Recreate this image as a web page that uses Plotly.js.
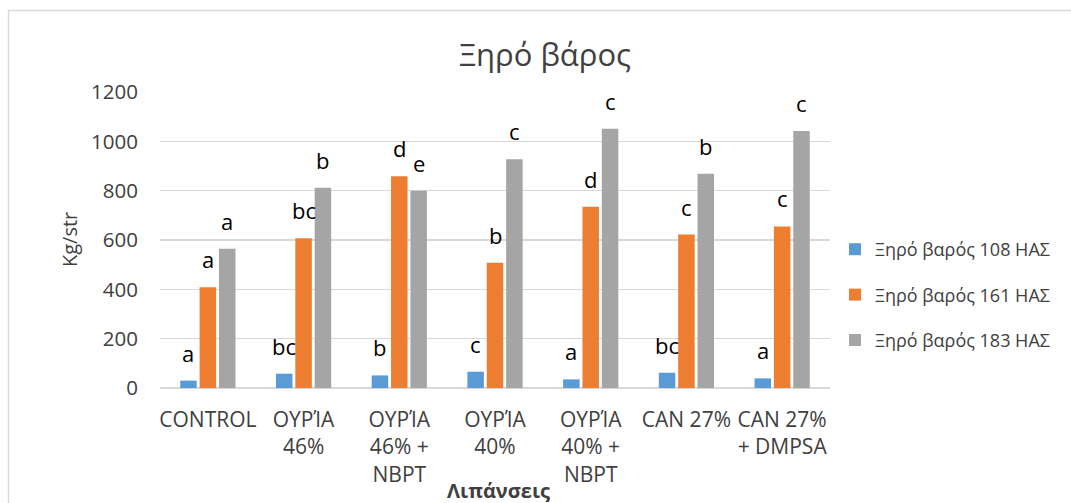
<!DOCTYPE html>
<html>
<head>
<meta charset="utf-8">
<script src="https://cdn.plot.ly/plotly-3.0.1.min.js"></script>
<style>
html,body{margin:0;padding:0;background:#fff;}
#chart{width:1071px;height:503px;}
</style>
</head>
<body>
<div id="chart"></div>
<script>
const categories = ["CONTROL", "ΟΥΡΊΑ<br>46%", "ΟΥΡΊΑ<br>46% +<br>NBPT", "ΟΥΡΊΑ<br>40%", "ΟΥΡΊΑ<br>40% +<br>NBPT", "CAN 27%", "CAN 27%<br>+ DMPSA"];
const seriesNames = ["Ξηρό βαρός 108 ΗΑΣ", "Ξηρό βαρός 161 ΗΑΣ", "Ξηρό βαρός 183 ΗΑΣ"];
const values108 = [30, 58, 51, 66, 35, 62, 39];
const values161 = [408, 607, 858, 508, 735, 622, 655];
const values183 = [565, 812, 800, 927, 1051, 869, 1042];
const letters108 = ["a", "bc", "b", "c", "a", "bc", "a"];
const letters161 = ["a", "bc", "d", "b", "d", "c", "c"];
const letters183 = ["a", "b", "e", "c", "c", "b", "c"];
const colors = ["#5B9BD5", "#ED7D31", "#A5A5A5"];

const allValues = [values108, values161, values183];
const allLetters = [letters108, letters161, letters183];
const FONT = "Open Sans, Liberation Sans, sans-serif";
const TXT = "#404040";
const bargap = 0.393;
const slot = (1 - bargap) / 3;

const traces = allValues.map((vals, k) => ({
  type: "bar",
  name: seriesNames[k],
  x: categories,
  y: vals,
  marker: {color: colors[k], line: {width: 0}},
  legendgroup: "g" + k,
  hoverinfo: "y"
}));

const annotations = [];
allValues.forEach((vals, k) => {
  vals.forEach((v, i) => {
    annotations.push({
      x: i + (k - 1) * slot, y: v, xref: "x", yref: "y",
      text: allLetters[k][i], showarrow: false,
      yanchor: "bottom", yshift: 11,
      font: {family: FONT, size: 22, color: "#000000"}
    });
  });
});
annotations.push({
  xref: "paper", yref: "paper", x: (69 - 160) / 670, y: 0.5,
  text: "Kg/str", textangle: -90, showarrow: false,
  xanchor: "center", yanchor: "middle",
  font: {family: FONT, size: 20, color: TXT}
});
annotations.push({
  xref: "paper", yref: "paper", x: (498 - 160) / 670, y: (388 - 490) / 296,
  text: "<b>Λιπάνσεις</b>", showarrow: false,
  xanchor: "center", yanchor: "middle",
  font: {family: FONT, size: 20, color: TXT}
});

const layout = {
  width: 1071, height: 503,
  margin: {l: 160, r: 241, t: 92, b: 115},
  paper_bgcolor: "#ffffff", plot_bgcolor: "#ffffff",
  title: {
    text: "Ξηρό βάρος", x: 545 / 1071, y: 1 - 55 / 503,
    xanchor: "center", yanchor: "middle",
    font: {family: FONT, size: 31, color: TXT}
  },
  barmode: "group", bargap: bargap, bargroupgap: 0.148,
  xaxis: {
    type: "category", showgrid: false, showline: false, zeroline: false,
    ticks: "", ticklabelstandoff: 17,
    tickfont: {family: FONT, size: 21, color: TXT}
  },
  yaxis: {
    range: [0, 1200], dtick: 200, showgrid: true, gridcolor: "#D9D9D9", gridwidth: 1.3,
    zeroline: true, zerolinecolor: "#D9D9D9", zerolinewidth: 1.3, showline: false,
    ticks: "", ticklabelstandoff: 21,
    tickfont: {family: FONT, size: 20.5, color: TXT}
  },
  showlegend: true,
  legend: {
    x: (835 - 160) / 670, y: (388 - 295) / 296, xanchor: "left", yanchor: "middle",
    traceorder: "grouped", tracegroupgap: 19,
    font: {family: FONT, size: 18, color: TXT},
    bgcolor: "rgba(0,0,0,0)"
  },
  annotations: annotations,
  shapes: [{
    type: "rect", xref: "paper", yref: "paper",
    x0: (8.5 - 160) / 670, x1: (1100 - 160) / 670,
    y0: (388 - 540) / 296, y1: (388 - 10.5) / 296,
    line: {color: "#D9D9D9", width: 1.5}, fillcolor: "rgba(0,0,0,0)", layer: "below"
  }]
};

Plotly.newPlot("chart", traces, layout, {displayModeBar: false, staticPlot: true});
</script>
</body>
</html>
